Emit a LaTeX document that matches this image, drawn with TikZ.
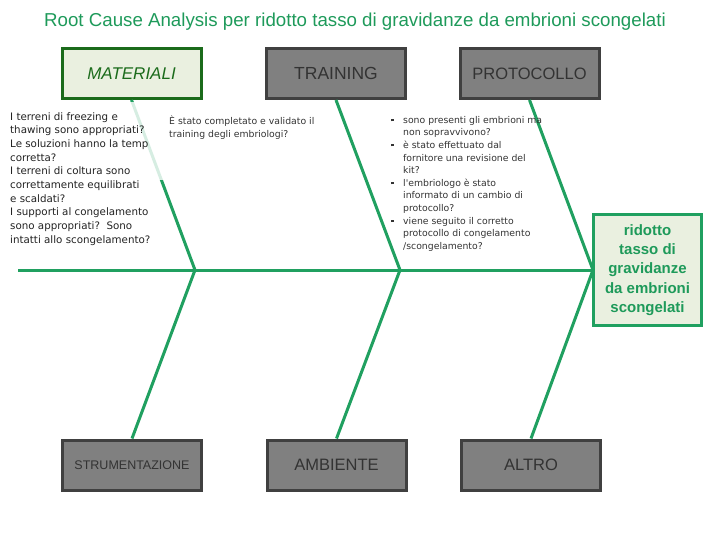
\documentclass[tikz,border=0pt]{standalone}
\usepackage{fontspec}
\setmainfont{Liberation Sans}
\newfontfamily\widefont{DejaVu Sans}
\definecolor{bone}{HTML}{20A060}
\definecolor{titlegreen}{HTML}{1E9A5A}
\definecolor{darkgreen}{HTML}{1B6B1B}
\definecolor{lightfill}{HTML}{EAF0E0}
\definecolor{boxgray}{HTML}{808080}
\definecolor{boxedge}{HTML}{404040}
\definecolor{boxtext}{HTML}{333333}
\definecolor{bodytext}{HTML}{222222}
\newcommand{\bulsq}{\makebox[12pt][l]{\raisebox{2pt}{\rule{2.5pt}{2.5pt}}}}
\begin{document}
\begin{tikzpicture}[x=1pt,y=-1pt,
  catbox/.style={draw=boxedge,fill=boxgray,line width=3pt,minimum width=139pt,minimum height=50pt,inner sep=0pt,text=boxtext,font=\fontsize{16.5}{18}\selectfont},
  matbox/.style={catbox,draw=darkgreen,fill=lightfill,text=darkgreen,font=\fontsize{17}{19}\selectfont\itshape},
  goalbox/.style={draw=bone,fill=lightfill,line width=3pt,minimum width=108pt,minimum height=111pt,inner sep=0pt,text=titlegreen,align=center,font=\fontsize{15}{19.3}\selectfont\bfseries},
  boneline/.style={draw=bone,line width=3pt},
  body/.style={anchor=north west,inner sep=0pt,align=left,text=bodytext},
  small/.style={anchor=north west,inner sep=0pt,align=left,text=boxtext,font=\widefont\fontsize{9.3}{12.6}\selectfont}
]
\useasboundingbox (0,0) rectangle (720,540);
% title
\node[text=titlegreen,font=\fontsize{18.7}{21}\selectfont] (title) at (355,22) {Root Cause Analysis per ridotto tasso di gravidanze da embrioni scongelati};
% boxes
\node[matbox] (mat) at (131.5,73.5) {MATERIALI};
\node[catbox,font=\fontsize{17.5}{19}\selectfont] (tra) at (336,73.5) {TRAINING};
\node[catbox] (pro) at (529.5,73.5) {PROTOCOLLO};
\node[catbox,font=\fontsize{12.5}{14}\selectfont] (str) at (132,465) {STRUMENTAZIONE};
\node[catbox] (amb) at (336.5,465) {AMBIENTE};
\node[catbox] (alt) at (531,465) {ALTRO};
\node[goalbox] (goal) at (647.5,270) {ridotto\\tasso di\\gravidanze\\da embrioni\\scongelati};
% joints
\coordinate (tail) at (18,270);
\coordinate (j1) at (195,270);
\coordinate (j2) at (400,270);
\coordinate (j3) at (593,270);
% bones
\draw[boneline] (tail) -- (goal.west);
\draw[boneline,line join=miter] (mat.south) -- (j1) -- (str.north);
\draw[boneline,line join=miter] (tra.south) -- (j2) -- (amb.north);
\draw[boneline,line join=miter] (pro.south) -- (j3) -- (alt.north);
% translucent text background over the MATERIALI bone
\fill[white,opacity=0.82] (8,102) rectangle (165,180);
% texts
\node[body,font=\widefont\fontsize{10.3}{13.7}\selectfont] (mattext) at (10,112) {I terreni di freezing e\\thawing sono appropriati?\\Le soluzioni hanno la temp\\corretta?\\I terreni di coltura sono\\correttamente equilibrati\\e scaldati?\\I supporti al congelamento\\sono appropriati?\ \ Sono\\intatti allo scongelamento?};
\node[small] (tratext) at (169,116) {È stato completato e validato il\\training degli embriologi?};
\node[small] (protext) at (391,116) {%
\bulsq sono presenti gli embrioni ma\\
\hspace*{12pt}non sopravvivono?\\
\bulsq è stato effettuato dal\\
\hspace*{12pt}fornitore una revisione del\\
\hspace*{12pt}kit?\\
\bulsq l'embriologo è stato\\
\hspace*{12pt}informato di un cambio di\\
\hspace*{12pt}protocollo?\\
\bulsq viene seguito il corretto\\
\hspace*{12pt}protocollo di congelamento\\
\hspace*{12pt}/scongelamento?};
\end{tikzpicture}
\end{document}
